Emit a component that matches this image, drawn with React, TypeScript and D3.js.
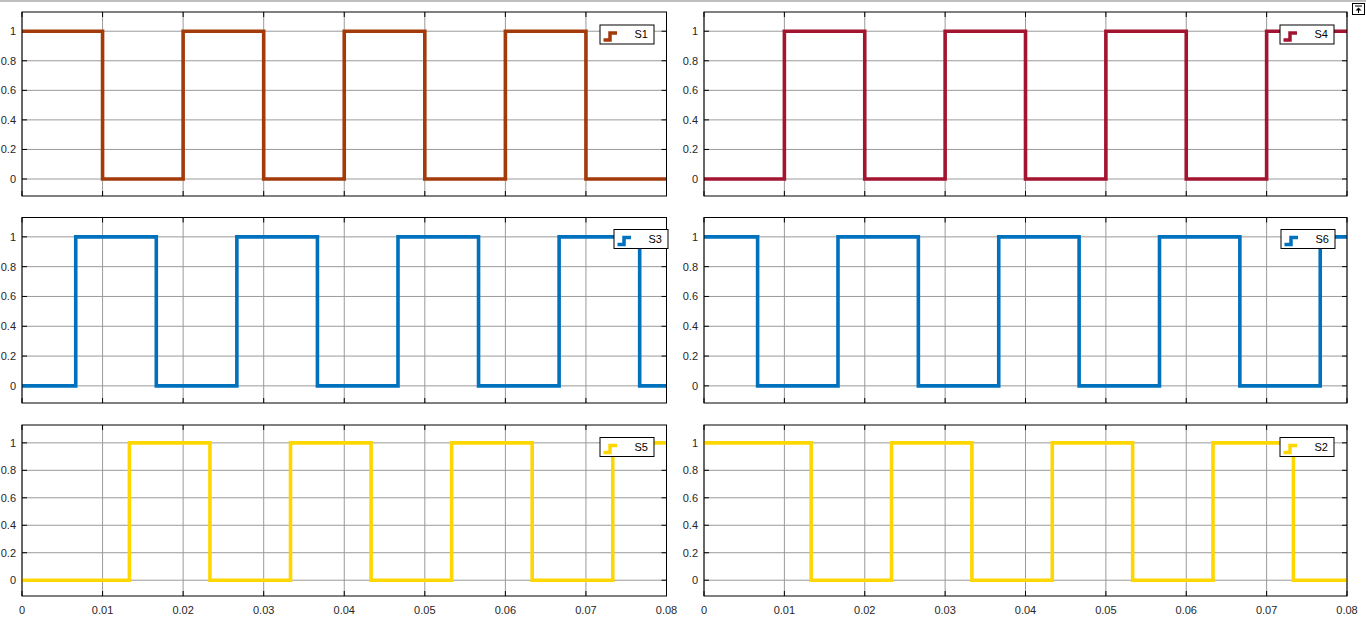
import React from "react";
import * as d3 from "d3";

const W = 1366;
const H = 622;

const xTicks = [0, 0.01, 0.02, 0.03, 0.04, 0.05, 0.06, 0.07, 0.08];
const xTickLabels = ["0", "0.01", "0.02", "0.03", "0.04", "0.05", "0.06", "0.07", "0.08"];
const yTicks = [0, 0.2, 0.4, 0.6, 0.8, 1];
const yTickLabels = ["0", "0.2", "0.4", "0.6", "0.8", "1"];

const tA = [0, 0.01, 0.02, 0.03, 0.04, 0.05, 0.06, 0.07, 0.08];
const tB = [0, 0.00667, 0.01667, 0.02667, 0.03667, 0.04667, 0.05667, 0.06667, 0.07667, 0.08];
const tC = [0, 0.01333, 0.02333, 0.03333, 0.04333, 0.05333, 0.06333, 0.07333, 0.08];

const s1 = [1, 0, 1, 0, 1, 0, 1, 0, 0];
const s4 = [0, 1, 0, 1, 0, 1, 0, 1, 1];
const s3 = [0, 1, 0, 1, 0, 1, 0, 1, 0, 0];
const s6 = [1, 0, 1, 0, 1, 0, 1, 0, 1, 1];
const s5 = [0, 1, 0, 1, 0, 1, 0, 1, 1];
const s2 = [1, 0, 1, 0, 1, 0, 1, 0, 0];

const names = ["S1", "S4", "S3", "S6", "S5", "S2"];
const colors = ["#A33A0A", "#A2142F", "#0072BD", "#0072BD", "#FFD700", "#FFD700"];

const cols = [
  { x0: 22, x1: 666.5 },
  { x0: 704, x1: 1347 },
];
const rows = [
  { y0: 12, y1: 196 },
  { y0: 217.5, y1: 403 },
  { y0: 425, y1: 596 },
];

const yDomain = [-0.115, 1.13];

const panels = [
  { name: names[0], color: colors[0], t: tA, v: s1, row: 0, col: 0, legR: -12.5, legT: 13 },
  { name: names[1], color: colors[1], t: tA, v: s4, row: 0, col: 1, legR: -13, legT: 13 },
  { name: names[2], color: colors[2], t: tB, v: s3, row: 1, col: 0, legR: 1.5, legT: 12 },
  { name: names[3], color: colors[3], t: tB, v: s6, row: 1, col: 1, legR: -12, legT: 12 },
  { name: names[4], color: colors[4], t: tC, v: s5, row: 2, col: 0, legR: -12.5, legT: 12.5 },
  { name: names[5], color: colors[5], t: tC, v: s2, row: 2, col: 1, legR: -13, legT: 12.5 },
];

const font = "'Liberation Sans', Arial, sans-serif";

function Panel({ p }: { p: typeof panels[number] }) {
  const c = cols[p.col];
  const r = rows[p.row];
  const x = d3.scaleLinear().domain([0, 0.08]).range([c.x0, c.x1]);
  const y = d3.scaleLinear().domain(yDomain).range([r.y1, r.y0]);
  const pts = p.t.map((t, i) => [t, p.v[i]] as [number, number]);
  const line = d3
    .line<[number, number]>()
    .x((d) => x(d[0]))
    .y((d) => y(d[1]))
    .curve(d3.curveStepAfter);
  const tl = 5;
  const lw = 54;
  const lh = 19;
  const lx = c.x1 + p.legR - lw;
  const ly = r.y0 + p.legT;
  return (
    <g>
      <rect x={c.x0} y={r.y0} width={c.x1 - c.x0} height={r.y1 - r.y0} fill="#fff" />
      {xTicks.map((t, i) => (
        <line key={"gx" + i} x1={x(t)} x2={x(t)} y1={r.y0} y2={r.y1} stroke="#9a9a9a" strokeWidth={1} />
      ))}
      {yTicks.map((t, i) => (
        <line key={"gy" + i} x1={c.x0} x2={c.x1} y1={y(t)} y2={y(t)} stroke="#9a9a9a" strokeWidth={1} />
      ))}
      {xTicks.map((t, i) => (
        <g key={"tx" + i}>
          <line x1={x(t)} x2={x(t)} y1={r.y0} y2={r.y0 + tl} stroke="#000" />
          <line x1={x(t)} x2={x(t)} y1={r.y1} y2={r.y1 - tl} stroke="#000" />
        </g>
      ))}
      {yTicks.map((t, i) => (
        <g key={"ty" + i}>
          <line x1={c.x0} x2={c.x0 + tl} y1={y(t)} y2={y(t)} stroke="#000" />
          <line x1={c.x1} x2={c.x1 - tl} y1={y(t)} y2={y(t)} stroke="#000" />
        </g>
      ))}
      <path d={line(pts) || ""} fill="none" stroke={p.color} strokeWidth={3.6} />
      <rect x={c.x0} y={r.y0} width={c.x1 - c.x0} height={r.y1 - r.y0} fill="none" stroke="#000" strokeWidth={1} />
      {yTicks.map((t, i) => (
        <text
          key={"yl" + i}
          x={c.x0 - 6}
          y={y(t)}
          dy="0.35em"
          textAnchor="end"
          fontSize={11}
          fontFamily={font}
          fill="#262626"
        >
          {yTickLabels[i]}
        </text>
      ))}
      {p.row === 2 &&
        xTicks.map((t, i) => (
          <text
            key={"xl" + i}
            x={x(t)}
            y={610}
            dy="0.35em"
            textAnchor="middle"
            fontSize={11}
            fontFamily={font}
            fill="#262626"
          >
            {xTickLabels[i]}
          </text>
        ))}
      <g>
        <rect x={lx} y={ly} width={lw} height={lh} fill="#fff" stroke="#000" strokeWidth={1} />
        <path
          d={`M${lx + 3.5},${ly + 15} H${lx + 10} V${ly + 8} H${lx + 17}`}
          fill="none"
          stroke={p.color}
          strokeWidth={3.5}
        />
        <text
          x={lx + lw - 6}
          y={ly + lh / 2}
          dy="0.35em"
          textAnchor="end"
          fontSize={11}
          fontFamily={font}
          fill="#000"
        >
          {p.name}
        </text>
      </g>
    </g>
  );
}

export default function App() {
  return (
    <svg
      width={W}
      height={H}
      style={{ position: "absolute", left: 0, top: 0, background: "#fff" }}
    >
      <rect x={0} y={0} width={W} height={H} fill="#fff" />
      <line x1={0} x2={W} y1={1} y2={1} stroke="#a8a8a8" strokeWidth={1.5} />
      {panels.map((p) => (
        <Panel key={p.name} p={p} />
      ))}
      <g>
        <rect x={1352.5} y={3.5} width={12} height={11} fill="#fff" stroke="#000" strokeWidth={1} />
        <line x1={1355} x2={1362} y1={6} y2={6} stroke="#000" strokeWidth={1} />
        <path d="M1358.5,7.5 L1355.5,10.5 H1361.5 Z" fill="#000" />
        <line x1={1358.5} x2={1358.5} y1={10} y2={13} stroke="#000" strokeWidth={1} />
      </g>
    </svg>
  );
}
